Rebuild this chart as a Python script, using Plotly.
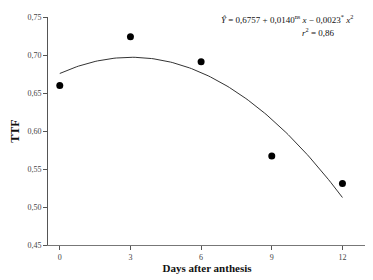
import numpy as np
import plotly.graph_objects as go

days = [0, 3, 6, 9, 12]
ttf = [0.660, 0.724, 0.691, 0.567, 0.531]
coef_b0, coef_b1, coef_b2 = 0.6757, 0.0140, -0.0023
x_ticks = [0, 3, 6, 9, 12]
y_ticks = [0.45, 0.50, 0.55, 0.60, 0.65, 0.70, 0.75]

xf = np.linspace(0, 12, 121)
yf = coef_b0 + coef_b1 * xf + coef_b2 * xf ** 2

fig = go.Figure()
fig.add_trace(go.Scatter(x=xf, y=yf, mode="lines",
                         line=dict(color="#333333", width=1), hoverinfo="skip"))
fig.add_trace(go.Scatter(x=days, y=ttf, mode="markers",
                         marker=dict(color="black", size=7)))

serif = "Liberation Serif, Times New Roman, serif"
# page body has an 8px margin: figure is sized to fit inside 373x280 window
fig.update_layout(
    width=365, height=272, showlegend=False,
    margin=dict(l=38, r=7, t=5, b=35),
    paper_bgcolor="white", plot_bgcolor="white",
    separators=", ",
    font=dict(family=serif, color="#333333", size=9),
    xaxis=dict(range=[-0.5, 13], tickvals=x_ticks, ticks="outside", ticklen=4,
               tickcolor="#555555", showline=True, linecolor="#777777", linewidth=1,
               showgrid=False, zeroline=False,
               tickfont=dict(family=serif, size=8, color="#444444"),
               title=dict(text="<b>Days after anthesis</b>", standoff=3,
                          font=dict(family=serif, size=11, color="#111111"))),
    yaxis=dict(range=[0.45, 0.75], tickvals=y_ticks, tickformat=".2f", ticks="outside",
               ticklen=4, tickcolor="#555555", showline=True, linecolor="#555555",
               linewidth=1, showgrid=False, zeroline=False,
               tickfont=dict(family=serif, size=8, color="#444444"),
               title=dict(text="<b>TTF</b>", standoff=6,
                          font=dict(family=serif, size=12, color="#111111"))),
)
fig.add_annotation(xref="paper", yref="paper", x=0.75, y=0.99, xanchor="center",
                   yanchor="middle", showarrow=False,
                   text="<i>Ŷ</i> = 0,6757 + 0,0140<sup>ns</sup> <i>x</i> − 0,0023<sup>*</sup> <i>x</i><sup>2</sup>",
                   font=dict(family=serif, size=9, color="#111111"))
fig.add_annotation(xref="paper", yref="paper", x=0.85, y=0.935, xanchor="center",
                   yanchor="middle", showarrow=False,
                   text="<i>r</i><sup>2</sup> = 0,86",
                   font=dict(family=serif, size=9, color="#111111"))
fig.write_html("out.html")
